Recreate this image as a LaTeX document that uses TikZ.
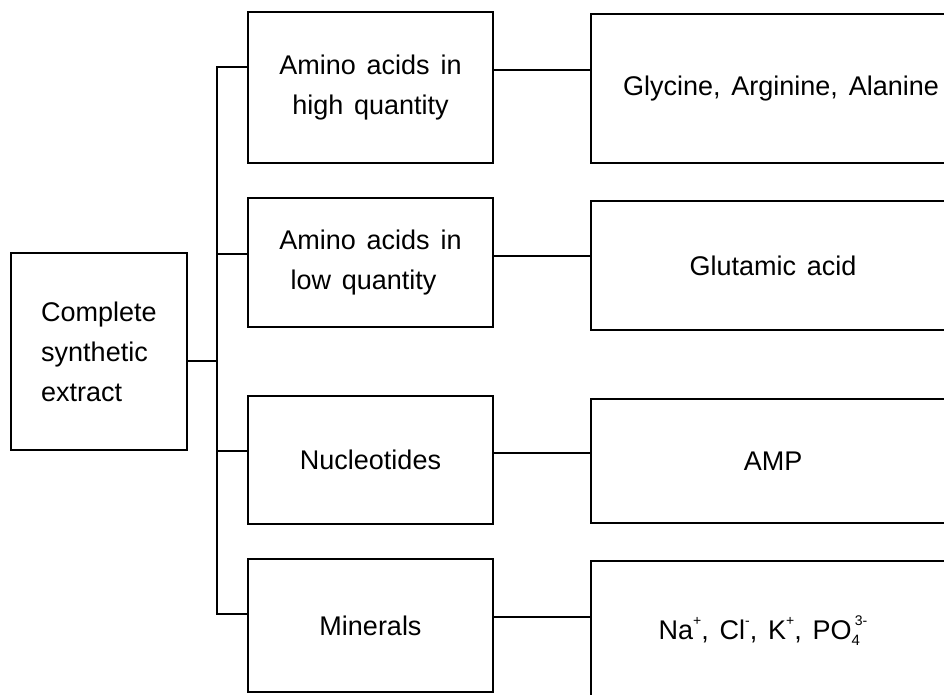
\documentclass[tikz,border=0pt]{standalone}
\usepackage{fontspec}
\setmainfont{Liberation Sans}
\newcommand\bxfont{\fontsize{27}{40}\selectfont\spaceskip=0.4em plus 0.1em\relax}
\newcommand\supx[1]{\raisebox{0.5em}{\fontsize{14}{14}\selectfont #1}}
\newcommand\subx[1]{\raisebox{-0.22em}{\fontsize{15}{15}\selectfont #1}}
\begin{document}
\begin{tikzpicture}[x=1pt,y=1pt,
  box/.style={draw, line width=1.3pt, rectangle, inner sep=0pt, font=\bxfont, align=center},
  conn/.style={draw, line width=1.3pt}]
\useasboundingbox (0,0) rectangle (944,694);
\clip (0,0) rectangle (944,694);
\fill[white] (0,0) rectangle (944,694);
% left box
\node[box, align=left, minimum width=176pt, minimum height=197pt] (L) at (99,342.5) {Complete\\synthetic\\extract};
% middle boxes
\node[box, minimum width=245pt, minimum height=151pt] (M1) at (370.5,606.5) {Amino acids in\\high quantity};
\node[box, minimum width=245pt, minimum height=129pt] (M2) at (370.5,431.5) {Amino acids in\\low quantity\hspace*{14pt}};
\node[box, minimum width=245pt, minimum height=128pt] (M3) at (370.5,234) {Nucleotides};
\node[box, minimum width=245pt, minimum height=133pt] (M4) at (370.5,68.5) {Minerals};
% right boxes
\node[box, minimum width=364pt, minimum height=149pt] (R1) at (773,605.5) {\hspace*{16pt}Glycine, Arginine, Alanine};
\node[box, minimum width=364pt, minimum height=129pt] (R2) at (773,428.5) {Glutamic acid};
\node[box, minimum width=364pt, minimum height=124pt] (R3) at (773,233) {AMP};
\node[box, minimum width=364pt, minimum height=139pt] (R4) at (773,63.5)
  {Na\supx{+}, Cl\supx{-}, K\supx{+}, PO\rlap{\subx{4}}\hspace{0.12em}\supx{3-}\hspace*{20pt}};
% trunk coordinates
\coordinate (t0) at (217,333);
\coordinate (b1) at (217,627);
\coordinate (b2) at (217,440);
\coordinate (b3) at (217,243);
\coordinate (b4) at (217,80);
\coordinate (r1) at (0,624);
\coordinate (r2) at (0,438);
\coordinate (r3) at (0,241);
\coordinate (r4) at (0,77);
% connectors
\draw[conn] (L.east |- t0) -- (t0);
\draw[conn] (M1.west |- b1) -- (b1) -- (b4) -- (M4.west |- b4);
\draw[conn] (b2) -- (M2.west |- b2);
\draw[conn] (b3) -- (M3.west |- b3);
\draw[conn] (M1.east |- r1) -- (R1.west |- r1);
\draw[conn] (M2.east |- r2) -- (R2.west |- r2);
\draw[conn] (M3.east |- r3) -- (R3.west |- r3);
\draw[conn] (M4.east |- r4) -- (R4.west |- r4);
\end{tikzpicture}
\end{document}
